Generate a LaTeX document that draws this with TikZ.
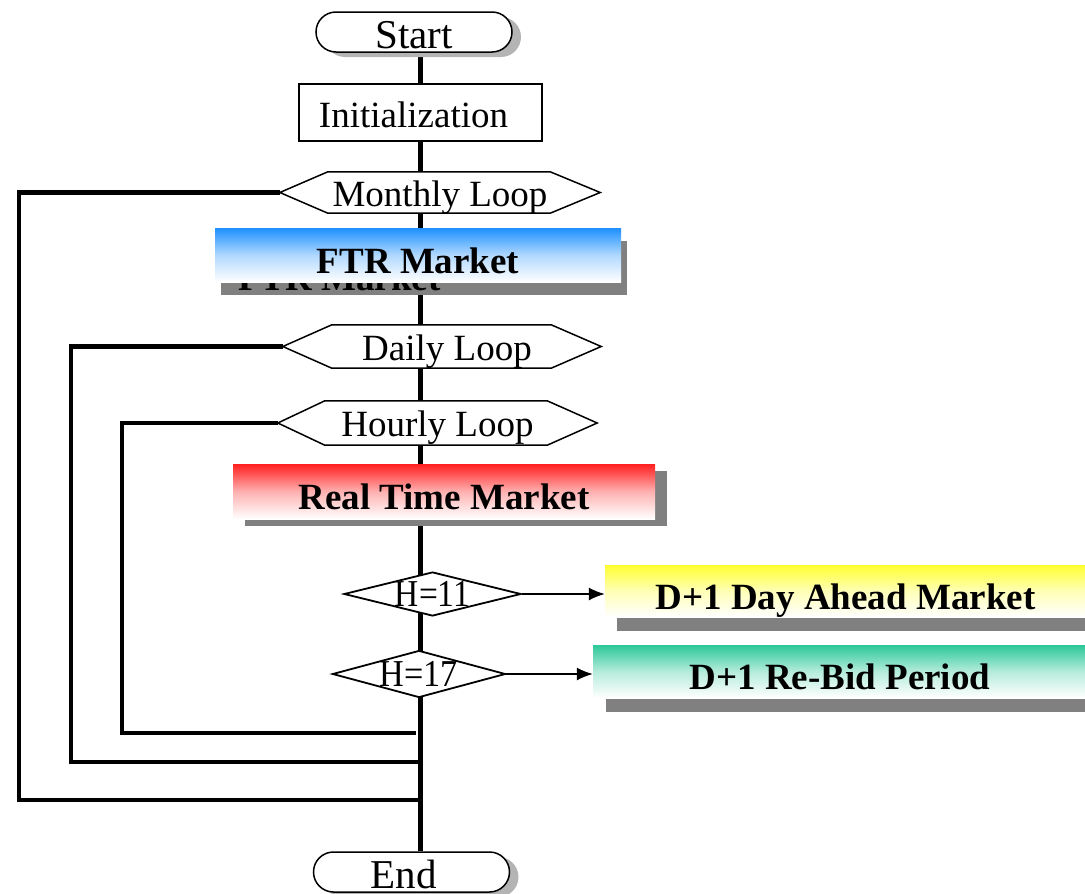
\documentclass[tikz,border=0pt]{standalone}
\usepackage{graphicx}
\usepackage{fontspec}
\setmainfont{Liberation Serif}
\usetikzlibrary{shapes.geometric,arrows.meta,shadows}
\pgfdeclarelayer{back}
\pgfdeclarelayer{mid}
\pgfsetlayers{back,mid,main}
\definecolor{ftrblue}{RGB}{30,144,255}
\definecolor{rtred}{RGB}{255,32,32}
\definecolor{dayellow}{RGB}{255,255,48}
\definecolor{rbteal}{RGB}{44,200,152}
\definecolor{boxshade}{RGB}{128,128,128}
\definecolor{termshade}{RGB}{180,180,180}
\begin{document}
\begin{tikzpicture}[x=1pt,y=-1pt,
  every node/.style={inner sep=0pt},
  terminal/.style={draw, line width=1.5pt, fill=white, rounded corners=20pt,
    minimum width=196pt, minimum height=40pt,
    font=\fontsize{41}{44}\selectfont, text height=32pt, text depth=0pt,
    drop shadow={shadow xshift=9pt, shadow yshift=-5pt, fill=termshade, opacity=1}},
  procbox/.style={draw, line width=1.5pt, fill=white,
    minimum width=243pt, minimum height=57pt,
    font=\fontsize{37}{40}\selectfont, text height=29pt, text depth=0pt},
  loopnode/.style={font=\fontsize{37}{40}\selectfont, text height=27pt, text depth=0pt},
  hexframe/.style={draw, line width=1.5pt, fill=white, line join=miter},
  market/.style={shade, top color=#1, bottom color=white, middle color=#1!35!white,
    font=\bfseries\fontsize{37}{40}\selectfont, text height=36pt, text depth=0pt},
  decision/.style={diamond, draw, line width=1.8pt, fill=white, aspect=4, inner sep=-1pt,
    font=\fontsize{38}{40}\selectfont, text height=25pt, text depth=0pt},
  spine/.style={line width=5pt},
  loopback/.style={line width=4.5pt, line join=miter},
  feed/.style={line width=1.5pt, -{Latex[length=16pt,width=13pt]}},
  plate/.style={fill=boxshade}]

\useasboundingbox (0,0) rectangle (1085,894);

% flow nodes
\node[terminal] (start) at (414,32) {Start};
\node[procbox] (init) at (420.5,112.5) {\hspace*{-14pt}Initialization};
\node[loopnode, minimum width=320pt, minimum height=41pt] (mon) at (440,192.5) {Monthly Loop};
\node[market=ftrblue, minimum width=406pt, minimum height=54pt] (ftr) at (418,255) {FTR Market};
\node[loopnode, minimum width=318pt, minimum height=43pt] (day) at (442,346.5) {\hspace*{10pt}Daily Loop};
\node[loopnode, minimum width=319pt, minimum height=44pt] (hour) at (437.5,423) {Hourly Loop};
\node[market=rtred, minimum width=422pt, minimum height=55pt] (rtm) at (444,491.5) {Real Time Market};
\node[decision, minimum width=177pt, minimum height=44pt] (h11) at (432.5,594) {\scalebox{0.88}[1]{H=11}};
\node[decision, minimum width=173pt, minimum height=47pt] (h17) at (419,674) {\scalebox{0.9}[1]{H=17}};
\node[market=dayellow, minimum width=481pt, minimum height=52pt] (dam) at (845.5,591) {D+1 Day Ahead Market};
\node[market=rbteal, minimum width=494pt, minimum height=53pt] (rebid) at (840,671.5) {D+1 Re-Bid Period};
\node[terminal] (end) at (411.5,872) {\hspace*{-16pt}End};

% side branches
\draw[feed] (h11.east) -- (h11.east -| dam.west);
\draw[feed] (h17.east) -- (h17.east -| rebid.west);

% helper coordinates for the spine and the loop returns
\coordinate (axis) at (420.5,0);
\coordinate (mx) at (19,0);
\coordinate (dx) at (71,0);
\coordinate (hx) at (122,0);
\coordinate (mret) at (418,800);
\coordinate (dret) at (418,762);
\coordinate (hret) at (416,733);

\begin{pgfonlayer}{back}
  \draw[spine] (start.south -| axis) -- (end.north -| axis);
  \draw[loopback] (mon.west) -| (mx |- mret) -- (mret);
  \draw[loopback] (day.west) -| (dx |- dret) -- (dret);
  \draw[loopback] (hour.west) -| (hx |- hret) -- (hret);
  % box shadows
  \fill[plate] ([shift={(6,13)}]ftr.north west) rectangle ([shift={(6,13)}]ftr.south east);
  \node[anchor=base west, font=\bfseries\fontsize{37}{40}\selectfont] (ftrecho) at (238,290) {FTR Market};
  \fill[plate] ([shift={(12,7)}]rtm.north west) rectangle ([shift={(12,7)}]rtm.south east);
  \fill[plate] ([shift={(12,14)}]dam.north west) rectangle ([shift={(12,14)}]dam.south east);
  \fill[plate] ([shift={(13,14)}]rebid.north west) rectangle ([shift={(13,14)}]rebid.south east);
\end{pgfonlayer}

\begin{pgfonlayer}{mid}
  \path[hexframe] (mon.west) -- ([xshift=48pt]mon.north west) -- ([xshift=-50pt]mon.north east)
    -- (mon.east) -- ([xshift=-50pt]mon.south east) -- ([xshift=48pt]mon.south west) -- cycle;
  \path[hexframe] (day.west) -- ([xshift=49pt]day.north west) -- ([xshift=-50pt]day.north east)
    -- (day.east) -- ([xshift=-50pt]day.south east) -- ([xshift=49pt]day.south west) -- cycle;
  \path[hexframe] (hour.west) -- ([xshift=47pt]hour.north west) -- ([xshift=-50pt]hour.north east)
    -- (hour.east) -- ([xshift=-50pt]hour.south east) -- ([xshift=47pt]hour.south west) -- cycle;
\end{pgfonlayer}
\end{tikzpicture}
\end{document}
